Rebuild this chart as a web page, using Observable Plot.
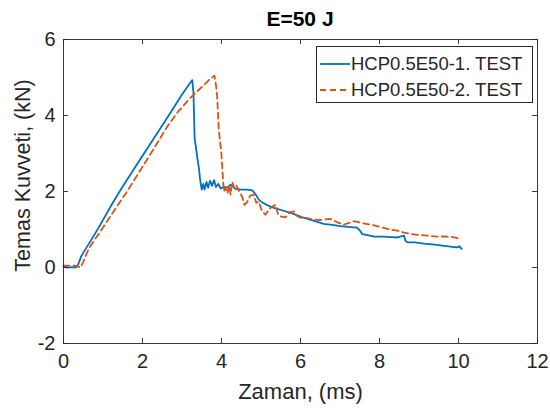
<!DOCTYPE html>
<html>
<head>
<meta charset="utf-8">
<script src="https://cdn.jsdelivr.net/npm/d3@7"></script>
<script src="https://cdn.jsdelivr.net/npm/@observablehq/plot@0.6"></script>
<style>
  html, body { margin: 0; padding: 0; background: #fff; }
  #wrap { position: relative; width: 550px; height: 414px; font-family: "Liberation Sans", Arial, sans-serif; }
  #title { position: absolute; left: 63px; width: 474px; top: 7px; text-align: center; font-size: 21px; font-weight: bold; color: #000; line-height: 24px; }
  #legend { position: absolute; left: 316px; top: 46px; width: 217px; height: 57px; border: 1px solid #262626; background: #fff; box-sizing: border-box; }
  .row { position: absolute; left: 0; height: 24px; display: flex; align-items: center; font-size: 18.5px; color: #262626; white-space: nowrap; }
  .row svg { margin-left: 3px; margin-right: 1px; }
</style>
</head>
<body>
<div id="wrap"></div>
<script>
const title = "E=50 J";
const xLabel = "Zaman, (ms)";
const yLabel = "Temas Kuvveti, (kN)";
const seriesNames = ["HCP0.5E50-1. TEST", "HCP0.5E50-2. TEST"];
const colors = ["#0072BD", "#D95319"];
const xTicks = [0, 2, 4, 6, 8, 10, 12];
const yTicks = [-2, 0, 2, 4, 6];

// Test 1 (solid blue): time (ms), force (kN)
const t1 = [0,0.1,0.2,0.3,0.35,0.45,0.56,0.7,0.89,1.2,1.42,1.5,1.8,2.1,2.4,2.7,3.0,3.2,3.26,3.29,3.32,3.36,3.40,3.43,3.46,3.50,3.54,3.57,3.62,3.66,3.71,3.76,3.81,3.86,3.92,3.98,4.06,4.15,4.23,4.35,4.5,4.65,4.78,4.86,4.95,5.05,5.2,5.35,5.55,5.75,5.9,6.08,6.3,6.59,6.8,7.01,7.2,7.43,7.5,7.56,7.7,7.86,8.1,8.3,8.45,8.62,8.66,8.72,8.9,9.12,9.4,9.63,9.85,9.97,10.02,10.08];
const f1 = [0.02,0.0,0.01,0.0,0.02,0.3,0.49,0.72,1.05,1.62,2.0,2.13,2.62,3.1,3.58,4.06,4.55,4.85,4.93,4.6,3.4,3.1,2.8,2.6,2.3,2.05,2.2,2.05,2.25,2.1,2.28,2.15,2.3,2.12,2.2,2.08,2.12,2.1,2.18,2.07,2.05,2.05,2.03,1.93,1.78,1.7,1.62,1.56,1.5,1.44,1.38,1.31,1.24,1.15,1.12,1.09,1.07,1.05,0.98,0.88,0.85,0.81,0.81,0.8,0.79,0.84,0.7,0.66,0.66,0.63,0.6,0.57,0.54,0.53,0.56,0.49];

// Test 2 (dashed orange)
const t2 = [0,0.2,0.35,0.43,0.5,0.64,0.8,1.0,1.36,1.61,1.7,2.0,2.3,2.62,2.9,3.2,3.5,3.7,3.82,3.86,3.89,3.93,3.97,3.99,4.01,4.04,4.06,4.1,4.15,4.2,4.23,4.27,4.32,4.37,4.45,4.52,4.58,4.65,4.73,4.82,4.88,4.94,5.02,5.11,5.24,5.37,5.43,5.49,5.62,5.73,5.83,5.92,6.0,6.17,6.34,6.5,6.76,6.95,7.1,7.25,7.35,7.55,7.77,8.0,8.28,8.45,8.62,8.8,8.95,9.2,9.46,9.65,9.8,9.95,10.03];
const f2 = [0.05,0.05,0.04,0.0,0.15,0.5,0.75,1.05,1.62,2.0,2.15,2.65,3.15,3.7,4.1,4.45,4.75,4.95,5.05,4.8,4.5,3.65,3.25,3.1,2.78,2.3,2.0,2.1,1.95,2.15,1.92,2.26,2.1,2.18,2.0,1.87,1.65,1.72,1.9,1.91,1.7,1.74,1.5,1.39,1.57,1.65,1.4,1.35,1.32,1.45,1.48,1.35,1.31,1.3,1.26,1.25,1.28,1.18,1.13,1.18,1.22,1.17,1.13,1.07,1.0,0.97,0.92,0.88,0.86,0.84,0.81,0.82,0.81,0.78,0.74];

const s1 = t1.map((t, i) => ({t, f: f1[i]}));
const s2 = t2.map((t, i) => ({t, f: f2[i]}));

const W = 550, H = 414, mL = 63, mR = 13, mT = 39, mB = 71;
const iW = W - mL - mR, iH = H - mT - mB;
const ink = "#262626";
const font = "Liberation Sans, Arial, sans-serif";

const chart = Plot.plot({
  width: W, height: H,
  marginLeft: mL, marginRight: mR, marginTop: mT, marginBottom: mB,
  style: {fontFamily: font, background: "#fff"},
  x: {domain: [0, 12], axis: null},
  y: {domain: [-2, 6], axis: null},
  marks: [
    Plot.line(s1, {x: "t", y: "f", stroke: colors[0], strokeWidth: 1.8}),
    Plot.line(s2, {x: "t", y: "f", stroke: colors[1], strokeWidth: 1.8, strokeDasharray: "6,4"}),
    Plot.frame({stroke: ink, strokeWidth: 0.9}),
    Plot.tickX(xTicks, {x: d => d, insetTop: iH - 5, stroke: ink, strokeWidth: 0.9}),
    Plot.tickX(xTicks, {x: d => d, insetBottom: iH - 5, stroke: ink, strokeWidth: 0.9}),
    Plot.tickY(yTicks, {y: d => d, insetRight: iW - 5, stroke: ink, strokeWidth: 0.9}),
    Plot.tickY(yTicks, {y: d => d, insetLeft: iW - 5, stroke: ink, strokeWidth: 0.9}),
    Plot.text(xTicks, {x: d => d, frameAnchor: "bottom", text: d => String(d), dy: 24, fontSize: 20, fill: ink}),
    Plot.text(yTicks, {y: d => d, frameAnchor: "left", text: d => String(d), dx: -8, textAnchor: "end", fontSize: 20, fill: ink}),
    Plot.text([xLabel], {frameAnchor: "bottom", text: d => d, dy: 55, fontSize: 22, fill: ink}),
    Plot.text([yLabel], {frameAnchor: "left", text: d => d, dx: -40, dy: -16, textAnchor: "middle", rotate: -90, fontSize: 21.5, fill: ink})
  ]
});

const wrap = document.getElementById("wrap");
wrap.appendChild(chart);

const titleDiv = document.createElement("div");
titleDiv.id = "title";
titleDiv.textContent = title;
wrap.appendChild(titleDiv);

const legend = document.createElement("div");
legend.id = "legend";
seriesNames.forEach((name, i) => {
  const row = document.createElement("div");
  row.className = "row";
  row.style.top = (i === 0 ? 5 : 31) + "px";
  const dash = i === 1 ? 'stroke-dasharray="6,4"' : "";
  row.innerHTML = `<svg width="30" height="6"><line x1="0" y1="3" x2="30" y2="3" stroke="${colors[i]}" stroke-width="1.8" ${dash}/></svg><span>${name}</span>`;
  legend.appendChild(row);
});
wrap.appendChild(legend);
</script>
</body>
</html>
